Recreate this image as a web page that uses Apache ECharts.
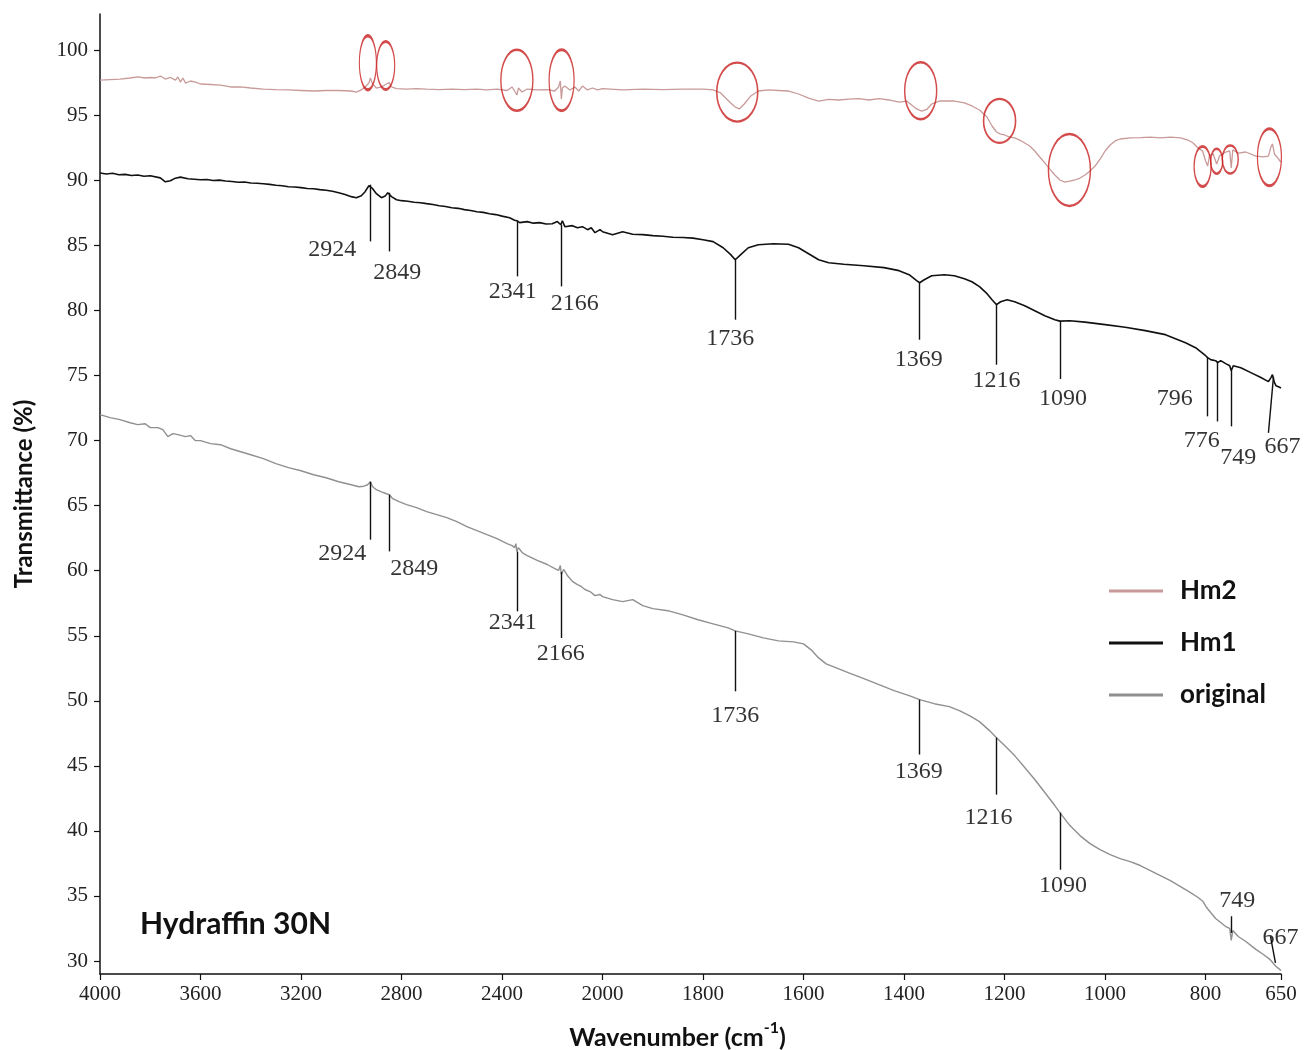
<!DOCTYPE html>
<html><head><meta charset="utf-8">
<script src="https://cdn.jsdelivr.net/npm/echarts@6/dist/echarts.min.js"></script>
<style>html,body{margin:0;padding:0;background:#fff}#chart{width:1304px;height:1050px}</style>
</head><body><div id="chart"></div>
<script>
// ---------- DATA ----------
const xTickWavenumbers = [4000,3600,3200,2800,2400,2000,1800,1600,1400,1200,1000,800,650];
const yTickValues = [30,35,40,45,50,55,60,65,70,75,80,85,90,95,100];
const seriesNames = ['Hm2','Hm1','original'];
const sampleLabel = 'Hydraffin 30N';

const hm2Spectrum = [
[4000,97.72],[3960,97.76],[3920,97.8],[3880,97.88],[3850,97.96],[3820,97.88],[3800,97.92],[3780,97.88],[3760,98.03],[3740,97.8],
[3720,97.92],[3700,97.72],[3690,97.96],[3680,97.57],[3670,97.88],[3660,97.49],[3640,97.65],[3620,97.57],[3600,97.42],[3560,97.38],
[3520,97.34],[3480,97.19],[3440,97.19],[3400,97.11],[3350,97.03],[3300,96.99],[3250,96.96],[3200,96.92],[3150,96.88],[3100,96.92],
[3050,96.92],[3000,96.88],[2980,96.8],[2960,96.96],[2945,97.19],[2930,97.49],[2924,97.88],[2915,97.42],[2900,97.11],[2880,97.19],
[2860,97.42],[2849,97.53],[2840,97.19],[2820,97.07],[2780,97.03],[2740,97.07],[2700,97.03],[2650,96.99],[2600,97.03],[2550,96.99],
[2500,97.03],[2460,96.96],[2420,97.03],[2380,96.92],[2360,97.19],[2350,96.88],[2341,96.57],[2335,97.11],[2320,96.8],[2300,97.03],
[2260,96.96],[2220,96.99],[2190,96.88],[2175,97.19],[2168,97.65],[2164,96.26],[2160,97.11],[2150,97.26],[2130,96.96],[2110,97.19],
[2095,96.88],[2080,97.26],[2060,96.96],[2040,97.11],[2020,96.96],[2000,97.07],[1960,96.96],[1920,97.03],[1880,96.99],[1840,97.03],
[1800,97.03],[1780,96.96],[1765,96.73],[1755,96.34],[1745,95.96],[1736,95.65],[1728,95.5],[1718,95.88],[1705,96.5],[1690,96.88],
[1670,96.96],[1650,96.92],[1630,96.88],[1610,96.65],[1590,96.34],[1570,96.11],[1550,96.23],[1530,96.19],[1510,96.26],[1490,96.3],
[1470,96.19],[1450,96.3],[1430,96.19],[1410,96.03],[1395,96.11],[1385,95.8],[1375,95.5],[1365,95.34],[1355,95.46],[1345,95.88],
[1330,96.11],[1300,96.11],[1280,95.96],[1265,95.73],[1250,95.42],[1235,94.88],[1225,94.19],[1216,93.73],[1208,93.57],[1200,93.5],
[1190,93.34],[1180,93.27],[1170,93.11],[1160,92.88],[1150,92.65],[1140,92.27],[1130,91.81],[1120,91.35],[1110,90.88],[1100,90.42],
[1090,90.04],[1080,89.88],[1070,89.96],[1060,90.04],[1050,90.19],[1040,90.42],[1030,90.73],[1020,91.11],[1010,91.65],[1000,92.27],
[990,92.73],[980,93.04],[970,93.19],[950,93.27],[930,93.3],[910,93.34],[890,93.27],[870,93.34],[850,93.27],[835,93.11],
[825,92.88],[815,92.5],[806,92.27],[800,91.5],[796,91.11],[792,91.96],[785,92.04],[778,91.27],[772,91.9],[760,92.19],
[752,92.27],[749,90.96],[746,92.35],[735,92.11],[720,92.19],[700,91.88],[685,91.81],[675,91.88],[670,92.58],[667,92.81],
[663,92.04],[658,91.81],[652,91.5],[650,91.42]
];

const hm1Spectrum = [
[4000,90.58],[3975,90.5],[3950,90.56],[3925,90.44],[3900,90.47],[3875,90.38],[3850,90.42],[3825,90.33],[3800,90.37],[3760,90.2],[3740,89.9],[3720,89.98],[3700,90.18],[3680,90.26],
[3650,90.14],[3625,90.1],[3600,90.06],[3575,90.08],[3550,90.0],[3525,90.03],[3500,89.96],[3475,89.92],[3450,89.87],[3425,89.88],[3400,89.81],[3375,89.79],[3350,89.75],[3325,89.7],[3300,89.64],[3275,89.6],[3250,89.52],[3225,89.5],[3200,89.45],
[3175,89.39],[3150,89.37],[3125,89.3],[3100,89.25],[3075,89.18],[3050,89.06],[3025,88.93],[3000,88.76],[2980,88.68],[2960,88.83],[2945,89.14],[2930,89.6],[2924,89.68],[2915,89.37],
[2900,88.99],[2880,88.68],[2865,88.8],[2855,89.06],[2849,89.06],[2840,88.76],[2820,88.52],[2800,88.45],[2775,88.4],[2750,88.33],[2725,88.29],[2700,88.22],
[2675,88.16],[2650,88.06],[2625,88.0],[2600,87.91],[2575,87.86],[2550,87.76],[2525,87.7],[2500,87.6],[2475,87.55],[2450,87.45],[2425,87.38],[2400,87.26],[2370,87.14],[2350,86.95],[2341,86.91],[2330,86.76],
[2300,86.84],[2275,86.72],[2250,86.76],[2225,86.66],[2200,86.68],[2180,86.84],[2166,86.6],[2160,86.91],[2150,86.45],[2120,86.53],[2100,86.37],[2080,86.45],
[2060,86.22],[2045,86.37],[2030,85.99],[2010,86.22],[2000,86.06],[1980,85.83],[1960,86.06],[1940,85.87],[1920,85.84],[1900,85.76],[1880,85.72],[1860,85.64],
[1840,85.62],[1820,85.57],[1800,85.45],[1780,85.3],[1760,84.83],[1745,84.3],[1736,83.91],[1725,84.3],[1710,84.83],[1690,85.06],[1660,85.14],
[1630,85.1],[1610,84.83],[1590,84.37],[1570,83.91],[1550,83.68],[1520,83.56],[1480,83.45],[1440,83.3],[1410,83.07],[1390,82.76],
[1375,82.3],[1369,82.14],[1360,82.37],[1345,82.68],[1320,82.76],[1300,82.68],[1280,82.45],[1265,82.22],[1250,81.84],[1235,81.3],
[1225,80.84],[1216,80.45],[1208,80.68],[1195,80.84],[1180,80.68],[1160,80.37],[1140,79.99],[1120,79.61],[1100,79.3],[1090,79.19],
[1070,79.22],[1040,79.11],[1000,78.92],[960,78.72],[920,78.46],[880,78.15],[860,77.84],[840,77.53],[820,77.15],[810,76.84],
[800,76.53],[796,76.38],[790,76.23],[780,76.15],[776,76.0],[770,76.15],[760,75.92],[752,75.76],[749,75.38],[745,75.76],
[730,75.61],[710,75.23],[690,74.85],[675,74.54],[670,74.85],[667,75.07],[663,74.46],[660,74.23],[655,74.15],[650,74.05]
];

const originalSpectrum = [
[4000,72.0],[3960,71.77],[3920,71.62],[3880,71.38],[3850,71.23],[3820,71.3],[3800,71.0],[3770,71.0],[3750,70.85],[3730,70.31],
[3710,70.54],[3690,70.46],[3660,70.31],[3640,70.39],[3620,70.0],[3600,70.0],[3560,69.77],[3520,69.69],[3480,69.38],[3440,69.15],
[3400,68.92],[3350,68.62],[3300,68.23],[3250,67.93],[3200,67.69],[3150,67.38],[3100,67.15],[3050,66.84],[3000,66.61],[2970,66.46],
[2950,66.5],[2935,66.61],[2924,66.84],[2915,66.46],[2900,66.23],[2880,66.07],[2860,65.92],[2849,65.85],[2835,65.54],[2810,65.31],
[2780,65.08],[2740,64.85],[2700,64.54],[2660,64.31],[2620,64.08],[2580,63.77],[2540,63.39],[2500,63.08],[2460,62.77],[2420,62.47],
[2380,62.08],[2360,61.93],[2350,61.78],[2345,62.08],[2341,61.47],[2335,61.78],[2320,61.4],[2300,61.17],[2260,60.79],[2220,60.48],
[2190,60.17],[2175,60.02],[2168,60.4],[2164,59.71],[2155,60.1],[2140,59.64],[2120,59.18],[2100,58.94],[2085,58.79],[2070,58.56],
[2050,58.4],[2030,58.09],[2010,58.17],[2000,58.01],[1980,57.78],[1960,57.63],[1940,57.78],[1920,57.32],[1900,57.09],[1870,56.93],
[1840,56.61],[1810,56.23],[1780,55.92],[1750,55.61],[1736,55.38],[1710,55.15],[1680,54.84],[1650,54.61],[1620,54.53],[1600,54.38],
[1585,53.92],[1570,53.3],[1555,52.84],[1540,52.61],[1510,52.15],[1480,51.71],[1450,51.25],[1420,50.79],[1390,50.4],[1369,50.09],
[1340,49.78],[1310,49.55],[1290,49.24],[1270,48.86],[1250,48.4],[1230,47.71],[1216,47.17],[1200,46.56],[1180,45.79],[1160,44.87],
[1140,43.95],[1120,42.95],[1100,41.95],[1090,41.41],[1070,40.41],[1050,39.64],[1030,39.02],[1010,38.56],[990,38.18],[970,37.87],
[950,37.64],[930,37.34],[910,36.95],[890,36.57],[870,36.18],[850,35.72],[830,35.26],[815,34.88],[805,34.57],[798,34.11],
[790,33.73],[780,33.27],[770,32.96],[760,32.65],[752,32.5],[749,31.58],[746,32.34],[735,31.88],[720,31.5],[700,30.89],
[685,30.5],[672,30.12],[665,29.81],[660,29.58],[655,29.43],[650,29.27]
];

// peak annotations: [label, wnStart, valueStart, wnEnd, valueEnd]
const hm1Peaks = [
['2924',2924,89.68,2924,85.32],['2849',2849,89.06,2849,84.55],['2341',2341,86.91,2341,82.63],
['2166',2166,86.6,2166,81.86],['1736',1736,83.91,1736,79.30],['1369',1369,82.14,1369,77.76],
['1216',1216,80.45,1216,75.84],['1090',1090,79.19,1090,74.74],['796',796,76.38,796,71.87],
['776',776,76.0,776,71.48],['749',749,75.38,749,71.10],['667',665,74.9,675,70.6]
];
const originalPeaks = [
['2924',2924,66.84,2924,62.39],['2849',2849,65.85,2849,61.49],['2341',2341,61.47,2341,56.88],
['2166',2166,59.9,2166,54.83],['1736',1736,55.38,1736,50.73],['1369',1369,50.09,1369,45.87],
['1216',1216,47.17,1216,42.79],['1090',1090,41.41,1090,37.02],['749',749,32.16,749,33.44],
['667',661,29.85,671,31.9]
];
// highlighted regions on Hm2 (ellipse centres)
const hm2Highlights = [
[2934,99.05],[2863,98.84],[2341,97.71],[2163,97.71],[1732,96.8],[1367,96.9],
[1210,94.58],[1071,90.81],[806,91.08],[778,91.48],[751,91.61],[673,91.79]
];

// ---------- STYLE / LAYOUT ----------
const hm1LabelOffsets = [[-38,8],[8,21],[-4,15],[14,17],[-5,19],[-1,20],[0,16],[3,20],[-33,-18],[-16,19],[7,31],[14,14]];
const originalLabelOffsets = [[-28,14],[25,17],[-4,11],[0,16],[0,24],[-1,17],[-8,23],[3,16],[6,-16],[10,1]];
const ellipseSizes = [[17,54],[18,48],[32,61],[25,61],[41,59],[32,57],[32,44],[42,72],[17,40],[12,25],[16,28],[24,57]];
const colors = {Hm2:'#c99a9a', Hm1:'#111111', original:'#909090', ring:'#c81e1e'};
const serif = 'Liberation Serif';
const sans = 'Lato';

// split wavenumber scale: 4000-2000 compressed (x1), 2000-650 expanded (x2)
function toP(w){ return w >= 2000 ? (4000 - w) / 4 : 500 + (2000 - w) / 2; }
function fromP(p){ return p <= 500 ? 4000 - 4 * p : 2000 - 2 * (p - 500); }

const xTickPos = xTickWavenumbers.map(toP);

function spec(arr){ return arr.map(d => [toP(d[0]), d[1]]); }
function peakLines(peaks){
  return peaks.map(pk => [{coord:[toP(pk[1]), pk[2]]},{coord:[toP(pk[3]), pk[4]]}]);
}
function peakLabels(peaks, offs){
  return peaks.map((pk,i) => ({value:[toP(pk[3]), pk[4]], name: pk[0], label:{offset: offs[i]}}));
}

const chart = echarts.init(document.getElementById('chart'), null, {renderer:'canvas'});
const annotLabelStyle = {show:true, position:'inside', formatter: p => p.name,
  fontFamily: serif, fontSize: 24, color:'#000'};

chart.setOption({
  animation:false,
  backgroundColor:'#fff',
  grid:{left:100, right:23, top:14, bottom:76, outerBoundsMode:'none', containLabel:false},
  legend:{
    data: seriesNames, orient:'vertical', left:1109, top:576, padding:0,
    icon:'rect', itemWidth:54, itemHeight:3, itemGap:22,
    textStyle:{fontFamily:sans, fontWeight:'bold', fontSize:26, color:'#111', lineHeight:30, padding:[0,0,0,12]}
  },
  xAxis:{
    type:'value', min:0, max:toP(650),
    name:'{b|Wavenumber (cm}{s|-1}{b|)}', nameLocation:'middle', nameGap:46,
    nameTextStyle:{padding:[0,26,0,0], rich:{
      b:{fontFamily:sans, fontWeight:'bold', fontSize:25, color:'#111', lineHeight:30, verticalAlign:'bottom'},
      s:{fontFamily:sans, fontWeight:'bold', fontSize:16, color:'#111', lineHeight:18, verticalAlign:'top'}
    }},
    axisLine:{show:true, lineStyle:{color:'#111', width:1.5}},
    axisTick:{show:true, customValues:xTickPos, length:6, lineStyle:{color:'#111', width:1.2}},
    axisLabel:{customValues:xTickPos, formatter: v => String(Math.round(fromP(v))),
      fontFamily:serif, fontSize:21, color:'#222', margin:10},
    splitLine:{show:false}
  },
  yAxis:{
    type:'value', min:29, max:102.8,
    name:'Transmittance (%)', nameLocation:'middle', nameGap:64, nameRotate:90,
    nameTextStyle:{fontFamily:sans, fontWeight:'bold', fontSize:24, color:'#111'},
    axisLine:{show:true, lineStyle:{color:'#111', width:1.5}},
    axisTick:{show:true, customValues:yTickValues, length:6, lineStyle:{color:'#111', width:1.2}},
    axisLabel:{customValues:yTickValues, fontFamily:serif, fontSize:21, color:'#222', margin:12},
    splitLine:{show:false}
  },
  graphic:[{type:'text', left:140, top:909, style:{text:sampleLabel, font:'bold 30px Lato', fill:'#111'}}],
  series:[
    {name:'Hm2', type:'line', data:spec(hm2Spectrum), symbol:'none', color:colors.Hm2,
      lineStyle:{color:colors.Hm2, width:1.3}, z:2},
    {name:'Hm1', type:'line', data:spec(hm1Spectrum), symbol:'none', color:colors.Hm1,
      lineStyle:{color:colors.Hm1, width:1.6}, z:3,
      markLine:{silent:true, symbol:['none','none'], label:{show:false},
        lineStyle:{color:'#111', width:1.4, type:'solid'}, data:peakLines(hm1Peaks)}},
    {name:'original', type:'line', data:spec(originalSpectrum), symbol:'none', color:colors.original,
      lineStyle:{color:colors.original, width:1.4}, z:3,
      markLine:{silent:true, symbol:['none','none'], label:{show:false},
        lineStyle:{color:'#111', width:1.4, type:'solid'}, data:peakLines(originalPeaks)}},
    {name:'hm1PeakLabels', type:'scatter', symbolSize:0, silent:true, z:5,
      data:peakLabels(hm1Peaks, hm1LabelOffsets), label:annotLabelStyle},
    {name:'originalPeakLabels', type:'scatter', symbolSize:0, silent:true, z:5,
      data:peakLabels(originalPeaks, originalLabelOffsets), label:annotLabelStyle},
    {name:'hm2Rings', type:'scatter', silent:true, z:6, symbol:'circle',
      data: hm2Highlights.map((c,i) => ({value:[toP(c[0]), c[1]], symbolSize: ellipseSizes[i]})),
      itemStyle:{color:'rgba(0,0,0,0)', borderColor:colors.ring, borderWidth:1.9}}
  ]
});
</script></body></html>
